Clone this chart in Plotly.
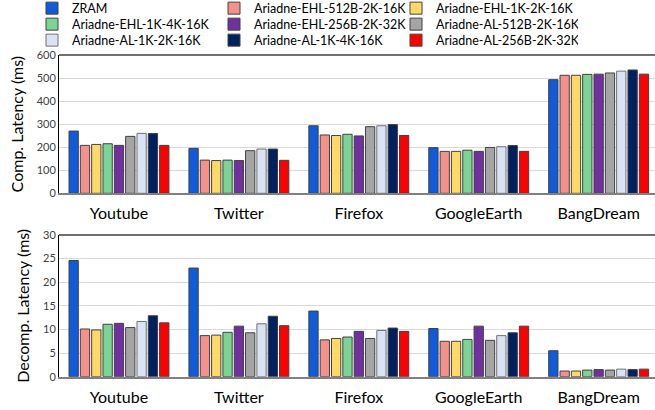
import plotly.graph_objects as go
from plotly.subplots import make_subplots

apps = ["Youtube", "Twitter", "Firefox", "GoogleEarth", "BangDream"]

series_names = [
    "ZRAM", "Ariadne-EHL-512B-2K-16K", "Ariadne-EHL-1K-2K-16K",
    "Ariadne-EHL-1K-4K-16K", "Ariadne-EHL-256B-2K-32K", "Ariadne-AL-512B-2K-16K",
    "Ariadne-AL-1K-2K-16K", "Ariadne-AL-1K-4K-16K", "Ariadne-AL-256B-2K-32K",
]
colors = ["#0F5BD9", "#F4918A", "#FFD966", "#7CD492", "#7030A0",
          "#A5A5A5", "#DAE3F3", "#002060", "#FF0000"]

# Compression latency (ms)
comp_zram    = [270, 195, 293, 198, 493]
comp_ehl512  = [208, 144, 253, 182, 512]
comp_ehl1k2k = [212, 142, 251, 182, 512]
comp_ehl1k4k = [215, 144, 256, 187, 516]
comp_ehl256  = [208, 142, 249, 182, 517]
comp_al512   = [247, 185, 289, 199, 522]
comp_al1k2k  = [260, 192, 293, 202, 530]
comp_al1k4k  = [259, 192, 298, 207, 535]
comp_al256   = [208, 143, 251, 182, 517]

# Decompression latency (ms)
dec_zram    = [24.6, 23.0, 13.9, 10.2, 5.5]
dec_ehl512  = [10.1, 8.7, 7.8, 7.5, 1.2]
dec_ehl1k2k = [9.9, 8.8, 8.1, 7.5, 1.2]
dec_ehl1k4k = [11.1, 9.4, 8.4, 7.9, 1.4]
dec_ehl256  = [11.3, 10.7, 9.6, 10.7, 1.5]
dec_al512   = [10.4, 9.3, 8.1, 7.7, 1.4]
dec_al1k2k  = [11.7, 11.2, 9.8, 8.7, 1.6]
dec_al1k4k  = [12.9, 12.8, 10.3, 9.3, 1.5]
dec_al256   = [11.4, 10.8, 9.6, 10.7, 1.6]

comp = [comp_zram, comp_ehl512, comp_ehl1k2k, comp_ehl1k4k, comp_ehl256,
        comp_al512, comp_al1k2k, comp_al1k4k, comp_al256]
dec = [dec_zram, dec_ehl512, dec_ehl1k2k, dec_ehl1k4k, dec_ehl256,
       dec_al512, dec_al1k2k, dec_al1k4k, dec_al256]

FONT = "Lato"
H = 410
W = 655

legend_ids = ["legend", "legend", "legend", "legend2", "legend2", "legend2",
              "legend3", "legend3", "legend3"]

fig = make_subplots(rows=2, cols=1)
for i, name in enumerate(series_names):
    outline = "#404040" if i != 6 else "#707070"
    fig.add_trace(go.Bar(x=apps, y=comp[i], name=name, marker_color=colors[i],
                         marker_line=dict(color=outline, width=1),
                         legendgroup=name, legend=legend_ids[i]), row=1, col=1)
    fig.add_trace(go.Bar(x=apps, y=dec[i], name=name, marker_color=colors[i],
                         marker_line=dict(color=outline, width=1),
                         legendgroup=name, showlegend=False), row=2, col=1)


def leg(row_center_px):
    return dict(orientation="h", x=32 / W, y=1 - (row_center_px - 14.5) / H,
                xanchor="left", yanchor="top",
                entrywidth=137, entrywidthmode="pixels",
                font=dict(size=12.5, family=FONT, color="#000000"),
                itemwidth=30, tracegroupgap=0, bgcolor="rgba(0,0,0,0)")


XR = [-0.5, 4.47]
xax = dict(domain=[59 / W, 1.0], range=XR, showline=True, linecolor="#808080", linewidth=1.5,
           ticks="", ticklabelstandoff=5, tickfont=dict(size=16, family=FONT))
fig.update_layout(
    width=W, height=H,
    margin=dict(l=0, r=0, t=0, b=0, autoexpand=False),
    paper_bgcolor="white", plot_bgcolor="white",
    barmode="group", bargap=0.15, bargroupgap=0.18,
    font=dict(family=FONT, color="#000000"),
    legend=leg(8), legend2=leg(24), legend3=leg(40),
    xaxis=xax, xaxis2=xax,
    yaxis=dict(domain=[1 - 193.3 / H, 1 - 55 / H], range=[0, 600], dtick=100,
               showline=True, linecolor="#000000", linewidth=1,
               gridcolor="#D9D9D9", gridwidth=1, zeroline=False,
               tickfont=dict(size=11, family=FONT, color="#404040"),
               title=dict(text="Comp. Latency (ms)", font=dict(size=16, family=FONT), standoff=9)),
    yaxis2=dict(domain=[1 - 376.7 / H, 1 - 235 / H], range=[0, 30], dtick=5,
                showline=True, linecolor="#000000", linewidth=1,
                gridcolor="#D9D9D9", gridwidth=1, zeroline=False,
                tickfont=dict(size=11, family=FONT, color="#404040"),
                title=dict(text="Decomp. Latency (ms)", font=dict(size=16, family=FONT), standoff=9)),
)

# top frame lines
for yref in ["y domain", "y2 domain"]:
    xref = "x domain" if yref == "y domain" else "x2 domain"
    fig.add_shape(type="line", xref=xref, yref=yref, x0=0, x1=1, y0=1, y1=1,
                  line=dict(color="#404040", width=1.5))

fig.write_html("out.html", config={"displayModeBar": False},
               post_script="document.body.style.margin='0';document.body.style.overflow='hidden';")
